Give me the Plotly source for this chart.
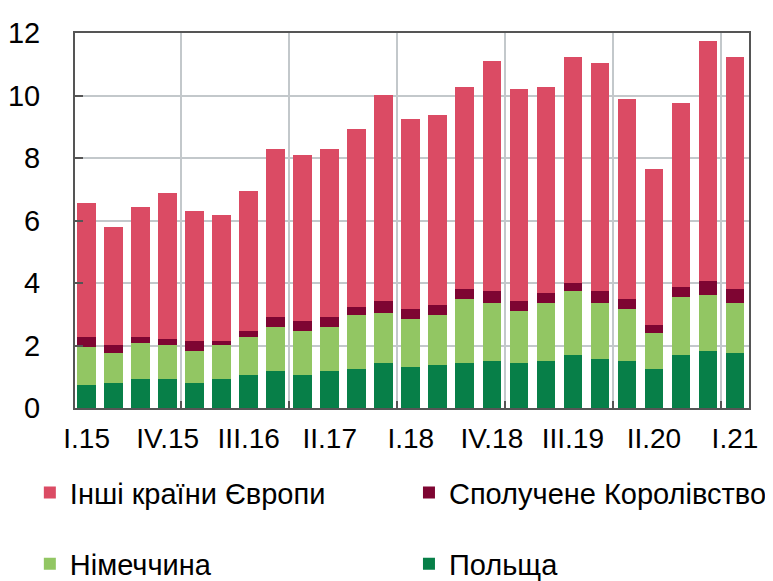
import plotly.graph_objects as go

quarters = ["I.15", "II.15", "III.15", "IV.15", "I.16", "II.16", "III.16", "IV.16",
            "I.17", "II.17", "III.17", "IV.17", "I.18", "II.18", "III.18", "IV.18",
            "I.19", "II.19", "III.19", "IV.19", "I.20", "II.20", "III.20", "IV.20", "I.21"]

poland = [0.74, 0.80, 0.93, 0.93, 0.80, 0.93, 1.06, 1.18, 1.06, 1.18, 1.25, 1.44, 1.31,
          1.38, 1.44, 1.50, 1.44, 1.50, 1.70, 1.57, 1.50, 1.25, 1.70, 1.82, 1.76]
germany = [1.21, 0.96, 1.15, 1.09, 1.02, 1.09, 1.21, 1.41, 1.40, 1.41, 1.73, 1.60, 1.54,
           1.60, 2.05, 1.86, 1.66, 1.86, 2.04, 1.79, 1.67, 1.15, 1.85, 1.80, 1.60]
uk = [0.32, 0.26, 0.19, 0.19, 0.32, 0.12, 0.19, 0.32, 0.32, 0.32, 0.25, 0.38, 0.32,
      0.32, 0.32, 0.38, 0.32, 0.32, 0.26, 0.38, 0.32, 0.26, 0.32, 0.44, 0.45]
other_europe = [4.29, 3.77, 4.16, 4.67, 4.16, 4.04, 4.48, 5.38, 5.32, 5.38, 5.70, 6.60, 6.08,
                6.08, 6.46, 7.36, 6.79, 6.59, 7.23, 7.30, 6.40, 4.99, 5.89, 7.68, 7.42]

tick_labels = ["I.15", "IV.15", "III.16", "II.17", "I.18", "IV.18", "III.19", "II.20", "I.21"]
y_ticks = [0, 2, 4, 6, 8, 10, 12]

x = list(range(len(quarters)))
tick_pos = [quarters.index(t) for t in tick_labels]
year_breaks = [i + 3.5 for i in range(0, len(quarters) - 1, 4) if i + 3.5 < len(quarters) - 1]

FONT = "Liberation Sans, Arial, sans-serif"
GRID = "#C3C8CB"
FRAME = "#555555"

# name, values, colour, legend slot (2 x 2 grid under the chart)
series = [
    ("Польща", poland, "#077F48", "legend4"),
    ("Німеччина", germany, "#92C663", "legend3"),
    ("Сполучене Королівство", uk, "#7E0532", "legend2"),
    ("Інші країни Європи", other_europe, "#DB4B64", "legend"),
]

fig = go.Figure()
for name, vals, color, leg in series:
    fig.add_trace(go.Bar(
        x=x, y=vals, name=name, marker=dict(color=color, line=dict(width=0)),
        width=0.69, legend=leg, customdata=quarters,
        hovertemplate="%{customdata}<br>" + name + ": %{y:.2f}<extra></extra>",
    ))

# invisible trace to carry the yearly vertical grid on an overlaying axis
fig.add_trace(go.Scatter(x=[x[0]], y=[0], xaxis="x2", mode="markers",
                         marker=dict(opacity=0), showlegend=False, hoverinfo="skip"))

xr = [-0.43, len(quarters) - 1 + 0.52]
leg = dict(orientation="h", xanchor="left", yanchor="middle",
           font=dict(size=29), bgcolor="rgba(0,0,0,0)")
col1, col2 = -0.067, 0.4955
row1, row2 = -0.226, -0.416

fig.update_layout(
    width=773, height=581,
    margin=dict(l=67, r=32, t=25, b=181, autoexpand=False),
    barmode="stack",
    plot_bgcolor="white", paper_bgcolor="white",
    font=dict(family=FONT, color="black"),
    xaxis=dict(
        range=xr, tickvals=tick_pos, ticktext=tick_labels, showgrid=False,
        ticks="", tickfont=dict(size=28), ticklabelstandoff=4,
        showline=True, linecolor=FRAME, linewidth=2, mirror=True, zeroline=False,
    ),
    xaxis2=dict(
        overlaying="x", range=xr, tickvals=year_breaks, showticklabels=False,
        showgrid=True, gridcolor=GRID, gridwidth=1.5, ticks="inside", ticklen=7,
        tickcolor=FRAME, tickwidth=1.5, side="bottom", zeroline=False,
    ),
    yaxis=dict(
        range=[0, 12], tickvals=y_ticks, showgrid=True, gridcolor=GRID, gridwidth=1.5,
        ticks="inside", ticklen=8, tickcolor=FRAME, tickwidth=1.5,
        tickfont=dict(size=29), ticklabelstandoff=27,
        showline=True, linecolor=FRAME, linewidth=2, mirror=True, zeroline=False,
    ),
    legend=dict(leg, x=col1, y=row1),
    legend2=dict(leg, x=col2, y=row1),
    legend3=dict(leg, x=col1, y=row2),
    legend4=dict(leg, x=col2, y=row2),
    showlegend=True,
)

fig.write_html("out.html")
